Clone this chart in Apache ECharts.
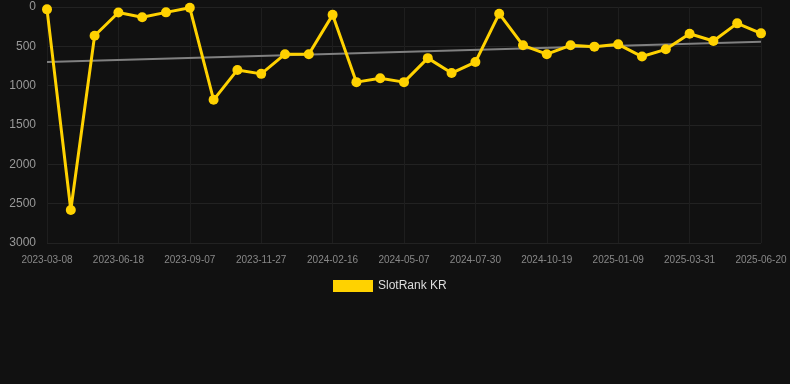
<!DOCTYPE html>
<html>
<head>
<meta charset="utf-8">
<script src="https://cdn.jsdelivr.net/npm/echarts@6/dist/echarts.min.js"></script>
<style>
  html, body { margin: 0; padding: 0; background: #111111; }
  #chart { width: 790px; height: 384px; }
</style>
</head>
<body>
<div id="chart"></div>
<script>
// dates of the samples (category axis, label every 3rd)
const dates = [
  '2023-03-08', '2023-04-11', '2023-05-15', '2023-06-18', '2023-07-15', '2023-08-11',
  '2023-09-07', '2023-10-04', '2023-10-31', '2023-11-27', '2023-12-24', '2024-01-20',
  '2024-02-16', '2024-03-14', '2024-04-10', '2024-05-07', '2024-06-04', '2024-07-02',
  '2024-07-30', '2024-08-26', '2024-09-22', '2024-10-19', '2024-11-15', '2024-12-13',
  '2025-01-09', '2025-02-05', '2025-03-04', '2025-03-31', '2025-04-27', '2025-05-24',
  '2025-06-20'
];

// rank values (lower = better, axis inverted)
const rankKR = [
  30, 2580, 365, 70, 130, 68, 10, 1180, 800, 850,
  600, 600, 100, 955, 905, 955, 650, 840, 700, 85,
  487, 600, 487, 504, 475, 630, 538, 340, 432, 208,
  335
];

// trend line end points (first / last date)
const trendEnds = [700, 441];

const yTicks = { min: 0, max: 3000, interval: 500 };

const chart = echarts.init(document.getElementById('chart'), null, { renderer: 'canvas' });

const option = {
  backgroundColor: '#111111',
  animation: false,
  grid: {
    left: 47,
    right: 29,
    top: 7,
    bottom: 141
  },
  legend: {
    bottom: 87,
    left: 328,
    itemWidth: 40,
    itemHeight: 12,
    data: ['SlotRank KR'],
    textStyle: { color: '#dddddd', fontSize: 12, fontFamily: 'Arial, Liberation Sans, sans-serif' },
    icon: 'rect'
  },
  xAxis: {
    type: 'category',
    boundaryGap: false,
    data: dates,
    axisLine: { show: false },
    axisTick: { show: false },
    axisLabel: {
      interval: 2,
      color: '#888888',
      fontSize: 10,
      margin: 12,
      fontFamily: 'Arial, Liberation Sans, sans-serif'
    },
    splitLine: {
      show: true,
      interval: 2,
      lineStyle: { color: '#1e1e1e', width: 1 }
    }
  },
  yAxis: {
    type: 'value',
    inverse: true,
    min: yTicks.min,
    max: yTicks.max,
    interval: yTicks.interval,
    axisLine: { show: false },
    axisTick: { show: false },
    axisLabel: {
      color: '#999999',
      fontSize: 12,
      margin: 11,
      formatter: (v) => String(v),
      fontFamily: 'Arial, Liberation Sans, sans-serif'
    },
    splitLine: { lineStyle: { color: '#222222', width: 1 } }
  },
  series: [
    {
      name: 'SlotRank KR',
      type: 'line',
      data: rankKR,
      symbol: 'circle',
      symbolSize: 10,
      lineStyle: { color: '#ffd200', width: 3 },
      itemStyle: { color: '#ffd200' },
      z: 3
    },
    {
      name: 'trend',
      type: 'line',
      data: [[dates[0], trendEnds[0]], [dates[dates.length - 1], trendEnds[1]]],
      symbol: 'none',
      lineStyle: { color: '#808080', width: 2 },
      z: 2
    }
  ]
};

chart.setOption(option);
</script>
</body>
</html>
